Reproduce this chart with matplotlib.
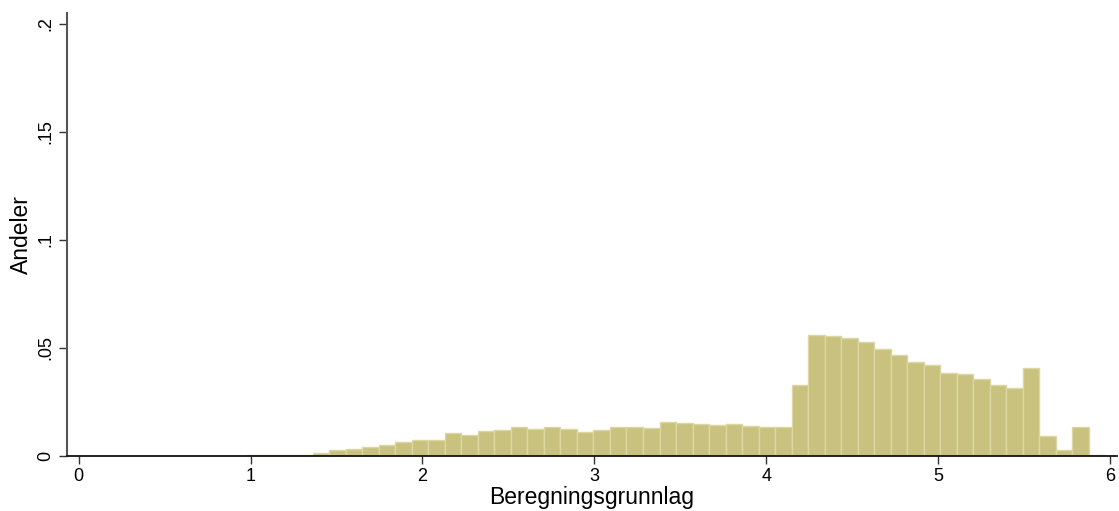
import numpy as np
import matplotlib
matplotlib.use("Agg")
import matplotlib.pyplot as plt

plt.rcParams['font.family'] = ['Liberation Sans', 'DejaVu Sans']

# histogram bins (Stata style: start at min, equal width)
bin_start = 0.977
bin_width = 0.0961
shares = [0.0003, 0.0003, 0.0003, 0.0004, 0.0010, 0.0025, 0.0030, 0.0040,
          0.0050, 0.0063, 0.0072, 0.0072, 0.0103, 0.0097, 0.0112, 0.0118,
          0.0131, 0.0123, 0.0131, 0.0124, 0.0109, 0.0117, 0.0131, 0.0131,
          0.0126, 0.0155, 0.0152, 0.0145, 0.0140, 0.0145, 0.0138, 0.0134,
          0.0131, 0.0326, 0.0559, 0.0554, 0.0545, 0.0526, 0.0491, 0.0466,
          0.0432, 0.0420, 0.0383, 0.0378, 0.0353, 0.0326, 0.0312, 0.0404,
          0.0090, 0.0025, 0.0132, 0.0002]

x_ticks = [0, 1, 2, 3, 4, 5, 6]
y_ticks = [0, 0.05, 0.1, 0.15, 0.2]
y_tick_labels = ["0", ".05", ".1", ".15", ".2"]

edges = bin_start + bin_width * np.arange(len(shares))

fig = plt.figure(figsize=(11.19, 5.11), dpi=100)
ax = fig.add_axes([0.0596, 0.1086, 0.9384, 0.8665])

ax.bar(edges, shares, width=bin_width, align='edge',
       color='#c9c27e', edgecolor='#dcd7a2', linewidth=1.0)

ax.set_xlim(-0.07, 6.04)
ax.set_ylim(0, 0.205)

ax.set_xticks(x_ticks)
ax.set_xticklabels([str(t) for t in x_ticks], fontsize=13)
ax.set_yticks(y_ticks)
ax.set_yticklabels(y_tick_labels, fontsize=13, rotation=90, va='center')

ax.tick_params(axis='both', length=6, width=1.0, color='#333333', pad=3)

for s in ['top', 'right']:
    ax.spines[s].set_visible(False)
ax.spines['left'].set_color('#555555')
ax.spines['left'].set_linewidth(1.5)
ax.spines['bottom'].set_color('#111111')
ax.spines['bottom'].set_linewidth(1.3)

ax.set_xlabel("Beregningsgrunnlag", fontsize=16.5, labelpad=1)
ax.set_ylabel("Andeler", fontsize=16.5, labelpad=3)

fig.savefig("out.png", dpi=100)
